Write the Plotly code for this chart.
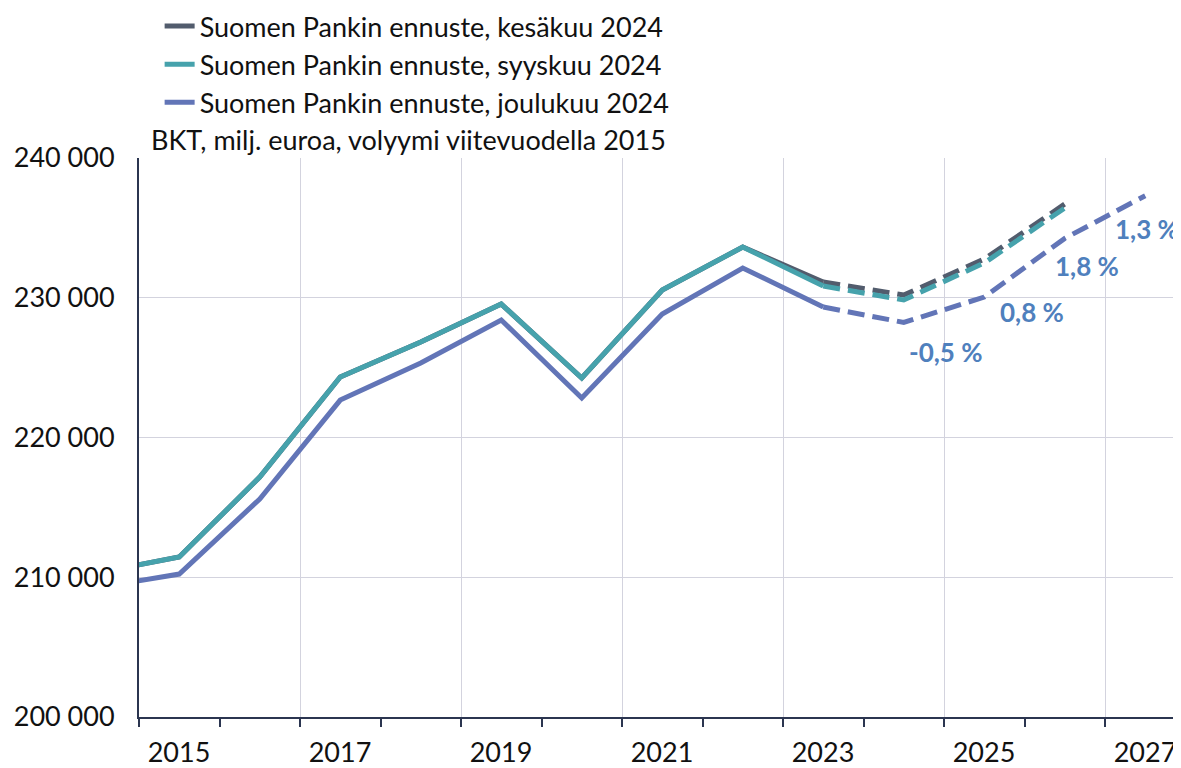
import plotly.graph_objects as go

years = [2014, 2015, 2016, 2017, 2018, 2019, 2020, 2021, 2022, 2023, 2024, 2025, 2026, 2027]

# Suomen Pankin ennuste, kesäkuu 2024 (history same as syyskuu)
kesa = [210350, 211450, 217170, 224330, 226830, 229550, 224260, 230550, 233630, 231130, 230200, 232770, 236710, None]
# Suomen Pankin ennuste, syyskuu 2024
syys = [210350, 211450, 217170, 224330, 226830, 229550, 224260, 230550, 233630, 230840, 229840, 232490, 236420, None]
# Suomen Pankin ennuste, joulukuu 2024
joulu = [209270, 210230, 215600, 222680, 225330, 228410, 222830, 228840, 232130, 229340, 228230, 230050, 234250, 237300]

forecast_start = 2023
label_years = [2015, 2017, 2019, 2021, 2023, 2025, 2027]
growth_years = [2024, 2025, 2026, 2027]
growth_labels = ["-0,5 %", "0,8 %", "1,8 %", "1,3 %"]
label_shifts = [(42, -30), (48, -15), (22, -28), (2, -33)]

series = [
    ("Suomen Pankin ennuste, kesäkuu 2024", kesa, "#525c6d"),
    ("Suomen Pankin ennuste, syyskuu 2024", syys, "#46a2ac"),
    ("Suomen Pankin ennuste, joulukuu 2024", joulu, "#6275b7"),
]

FONT = "Lato"
AX = "#2b3550"
fig = go.Figure()
for name, vals, col in series:
    hx = [y for y, v in zip(years, vals) if y <= forecast_start and v is not None]
    hy = [v for y, v in zip(years, vals) if y <= forecast_start and v is not None]
    fx = [y for y, v in zip(years, vals) if y >= forecast_start and v is not None]
    fy = [v for y, v in zip(years, vals) if y >= forecast_start and v is not None]
    fig.add_trace(go.Scatter(x=hx, y=hy, mode="lines", name=name, legendgroup=name,
                             line=dict(color=col, width=5), showlegend=True))
    fig.add_trace(go.Scatter(x=fx, y=fy, mode="lines", name=name, legendgroup=name,
                             line=dict(color=col, width=5, dash="17px,8px"), showlegend=False))

jv = dict(zip(years, joulu))
for yr, txt, (dx, dy) in zip(growth_years, growth_labels, label_shifts):
    fig.add_annotation(x=yr, y=jv[yr], text=txt, showarrow=False, xshift=dx, yshift=dy,
                       font=dict(family=FONT, size=26, color="#4f80bd", weight="bold"))

fig.add_annotation(xref="paper", yref="paper", x=0.0096, y=1.0, xanchor="left", yanchor="bottom",
                   yshift=0, text="BKT, milj. euroa, volyymi viitevuodella 2015", showarrow=False,
                   font=dict(family=FONT, size=27, color="#111111"))

# Category bands: each year occupies [year-0.5, year+0.5]; labels sit at band centres
band_starts = [y - 0.5 for y in label_years]
W, H = 1173, 760
L, R, T, B = 131, 0, 150, 51
px_per_year = 80.5
x0 = 2014.5
x1 = x0 + (W - L - R) / px_per_year
plot_h = H - T - B

fig.update_layout(
    width=W, height=H,
    margin=dict(l=L, r=R, t=T, b=B, autoexpand=False),
    paper_bgcolor="white", plot_bgcolor="white",
    separators=", ",
    font=dict(family=FONT, size=27, color="#111111"),
    legend=dict(x=0.0198, y=1 + (T + 6) / plot_h, xanchor="left", yanchor="top",
                font=dict(size=27, family=FONT), tracegroupgap=0, bgcolor="rgba(0,0,0,0)"),
    xaxis=dict(range=[x0, x1], tickvals=band_starts, ticktext=[str(y) for y in label_years],
               ticklabelshift=int(round(px_per_year / 2)), ticklabelstandoff=3,
               tickfont=dict(size=27, family=FONT, color="#111111"),
               showgrid=True, gridcolor="#d3d3de", gridwidth=1.2,
               ticks="outside", ticklen=8, tickcolor=AX, tickwidth=2,
               minor=dict(tick0=x0, dtick=1, ticks="outside", ticklen=8,
                          tickcolor=AX, tickwidth=2, showgrid=False),
               showline=True, linecolor=AX, linewidth=2, zeroline=False, automargin=False),
    yaxis=dict(range=[200000, 240000], dtick=10000, tickformat=",d",
               showgrid=True, gridcolor="#d3d3de", gridwidth=1.2,
               showline=True, linecolor=AX, linewidth=2, ticks="", zeroline=False, automargin=False,
               tickfont=dict(size=27, family=FONT, color="#111111"), ticklabelstandoff=17),
)

fig.write_html("out.html")
